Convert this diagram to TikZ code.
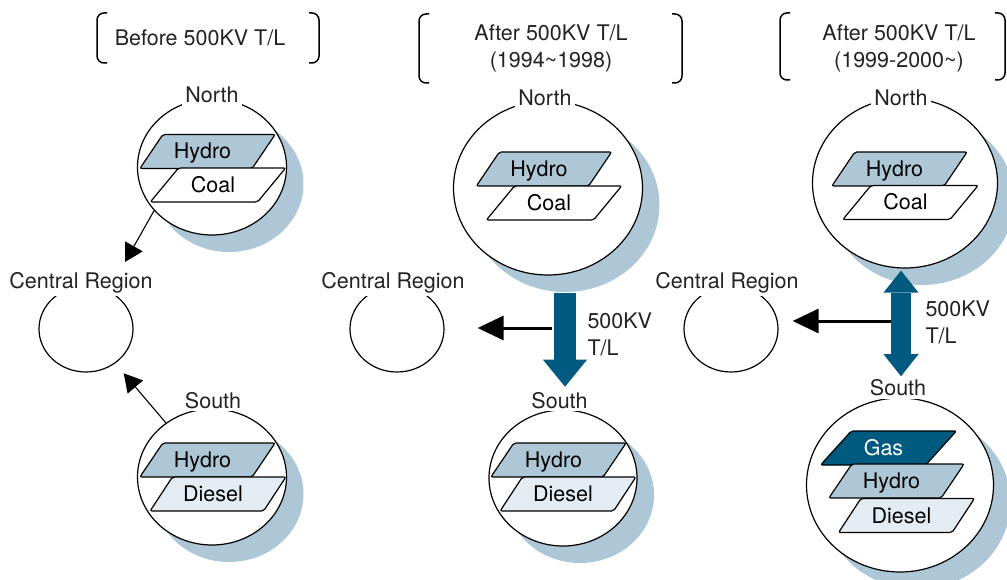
\documentclass[tikz,border=0pt]{standalone}
\usepackage{fontspec}
\setmainfont{TeX Gyre Heros}
\usetikzlibrary{positioning,shapes.geometric,arrows.meta,shadows}

\definecolor{shadeblue}{RGB}{174,199,214}
\definecolor{hydroblue}{RGB}{174,199,214}
\definecolor{dieselblue}{RGB}{227,236,242}
\definecolor{linkteal}{RGB}{0,90,128}
\definecolor{inkgray}{RGB}{34,34,34}

\tikzset{
  every node/.style={font=\fontsize{21.5}{27}\selectfont, text=inkgray},
  region/.style={ellipse, draw=black, line width=1.2pt, fill=white, inner sep=0pt,
    drop shadow={shadow xshift=17pt, shadow yshift=-17pt, fill=shadeblue, opacity=1}},
  hub/.style={ellipse, draw=black, line width=1.2pt, fill=white, inner sep=0pt,
    minimum width=94pt, minimum height=86pt},
  lbl/.style={fill=white, inner sep=3pt, anchor=base},
  genbox/.style={trapezium, trapezium left angle=51, trapezium right angle=129,
    trapezium stretches=true, minimum width=136pt, minimum height=34pt,
    text height=15pt, text depth=0pt, execute at begin node=\hspace*{-10pt},
    inner sep=0pt, draw=black, line width=1.2pt, rounded corners=2pt, text=black},
  feed/.style={-{Triangle[length=18pt,width=20pt]}, line width=1.1pt},
  feedbold/.style={-{Triangle[length=26pt,width=24pt]}, line width=3pt},
  tline/.style={-{Triangle[length=27pt,width=44pt,line width=0pt]},
    line width=22pt, draw=linkteal},
  tlinetwo/.style={{Triangle[length=22pt,width=35pt,line width=0pt]}-{Triangle[length=22pt,width=35pt,line width=0pt]},
    line width=20pt, draw=linkteal},
  brk/.style={line width=1.5pt, rounded corners=7pt}
}

% pair of round-cornered brackets round a title
\newcommand{\titlebrackets}[4]{%
  \draw[brk] (#1+10,#3) -- (#1,#3) -- (#1,#4) -- (#1+10,#4);
  \draw[brk] (#2-10,#3) -- (#2,#3) -- (#2,#4) -- (#2-10,#4);
}

\begin{document}
\begin{tikzpicture}[x=1pt,y=-1pt]
  \useasboundingbox (0,0) rectangle (1007,580);

  % Titles
  \titlebrackets{97}{319}{13}{63}
  \titlebrackets{419}{682}{14}{83}
  \titlebrackets{780}{1005}{13}{80}
  \node[anchor=base] (t1) at (200,45.5) {Before 500KV T/L};
  \node[align=center] (t2) at (551,48.5) {After 500KV T/L\\(1994\textasciitilde1998)};
  \node[align=center] (t3) at (899,48.5) {After 500KV T/L\\(1999-2000\textasciitilde)};

  % Before 500KV T/L
  \node[region, minimum width=149pt, minimum height=136pt] (north1) at (212,167) {};
  \node[region, minimum width=149pt, minimum height=136pt] (south1) at (212,477) {};
  \node[hub] (central1) at (86,329) {};
  \node[lbl] (nl1) at (212,103) {North};
  \node[lbl] (sl1) at (213,408) {South};
  \node[lbl] (cl1) at (81,288) {Central Region};
  \node[genbox, fill=hydroblue] (nh1) at (207.5,151.5) {Hydro};
  \node[genbox, fill=white] (nc1) at (218,185) {Coal};
  \node[genbox, fill=hydroblue] (sh1) at (207.5,460) {Hydro};
  \node[genbox, fill=dieselblue] (sd1) at (218,494) {Diesel};
  \coordinate (cin1) at (125,262);
  \draw[feed] (north1.217) -- (cin1);
  \draw[feed, shorten >=13pt] (south1) -- (central1);

  % After 500KV T/L (1994~1998)
  \node[region, minimum width=189pt, minimum height=174pt] (north2) at (548,188) {};
  \node[region, minimum width=148pt, minimum height=136pt] (south2) at (563,478) {};
  \node[hub] (central2) at (397,329) {};
  \node[lbl] (nl2) at (545,106) {North};
  \node[lbl] (sl2) at (559.5,408) {South};
  \node[lbl] (cl2) at (393,288) {Central Region};
  \node[genbox, fill=hydroblue] (nh2) at (544,169) {Hydro};
  \node[genbox, fill=white] (nc2) at (554,203) {Coal};
  \node[genbox, fill=hydroblue] (sh2) at (558.5,460) {Hydro};
  \node[genbox, fill=dieselblue] (sd2) at (568,494) {Diesel};
  \coordinate (top2) at ([shift={(17pt,-17pt)}]north2.south);
  \draw[tline] (top2) -- ([yshift=2pt]top2 |- sl2.north);
  \coordinate (tap2) at (552,328);
  \draw[feedbold, shorten >=33pt] (tap2) -- (tap2 -| central2.east);
  \node[anchor=west, align=left] (kv2) at (584,334.5) {500KV\\T/L};

  % After 500KV T/L (1999-2000~)
  \node[region, minimum width=185pt, minimum height=170pt] (north3) at (905,183) {};
  \node[region, minimum width=187pt, minimum height=174pt] (south3) at (900,485) {};
  \node[hub] (central3) at (731,329) {};
  \node[lbl] (nl3) at (901,106) {North};
  \node[lbl] (sl3) at (898,395.5) {South};
  \node[lbl] (cl3) at (727,288) {Central Region};
  \node[genbox, fill=hydroblue] (nh3) at (899.5,169) {Hydro};
  \node[genbox, fill=white] (nc3) at (910.5,202.5) {Coal};
  \node[genbox, fill=linkteal, text=white] (sg3) at (888.5,448) {Gas};
  \node[genbox, fill=hydroblue] (sh3) at (896.5,481) {Hydro};
  \node[genbox, fill=dieselblue] (sd3) at (906.5,515.5) {Diesel};
  \coordinate (top3) at ([xshift=-4pt,yshift=-2pt]north3.south);
  \draw[tlinetwo] (top3) -- (top3 |- sl3.north);
  \coordinate (tap3) at (891,321);
  \draw[feedbold, shorten >=14pt] (tap3) -- (tap3 -| central3.east);
  \node[anchor=west, align=left] (kv3) at (922,322) {500KV\\T/L};
\end{tikzpicture}
\end{document}
